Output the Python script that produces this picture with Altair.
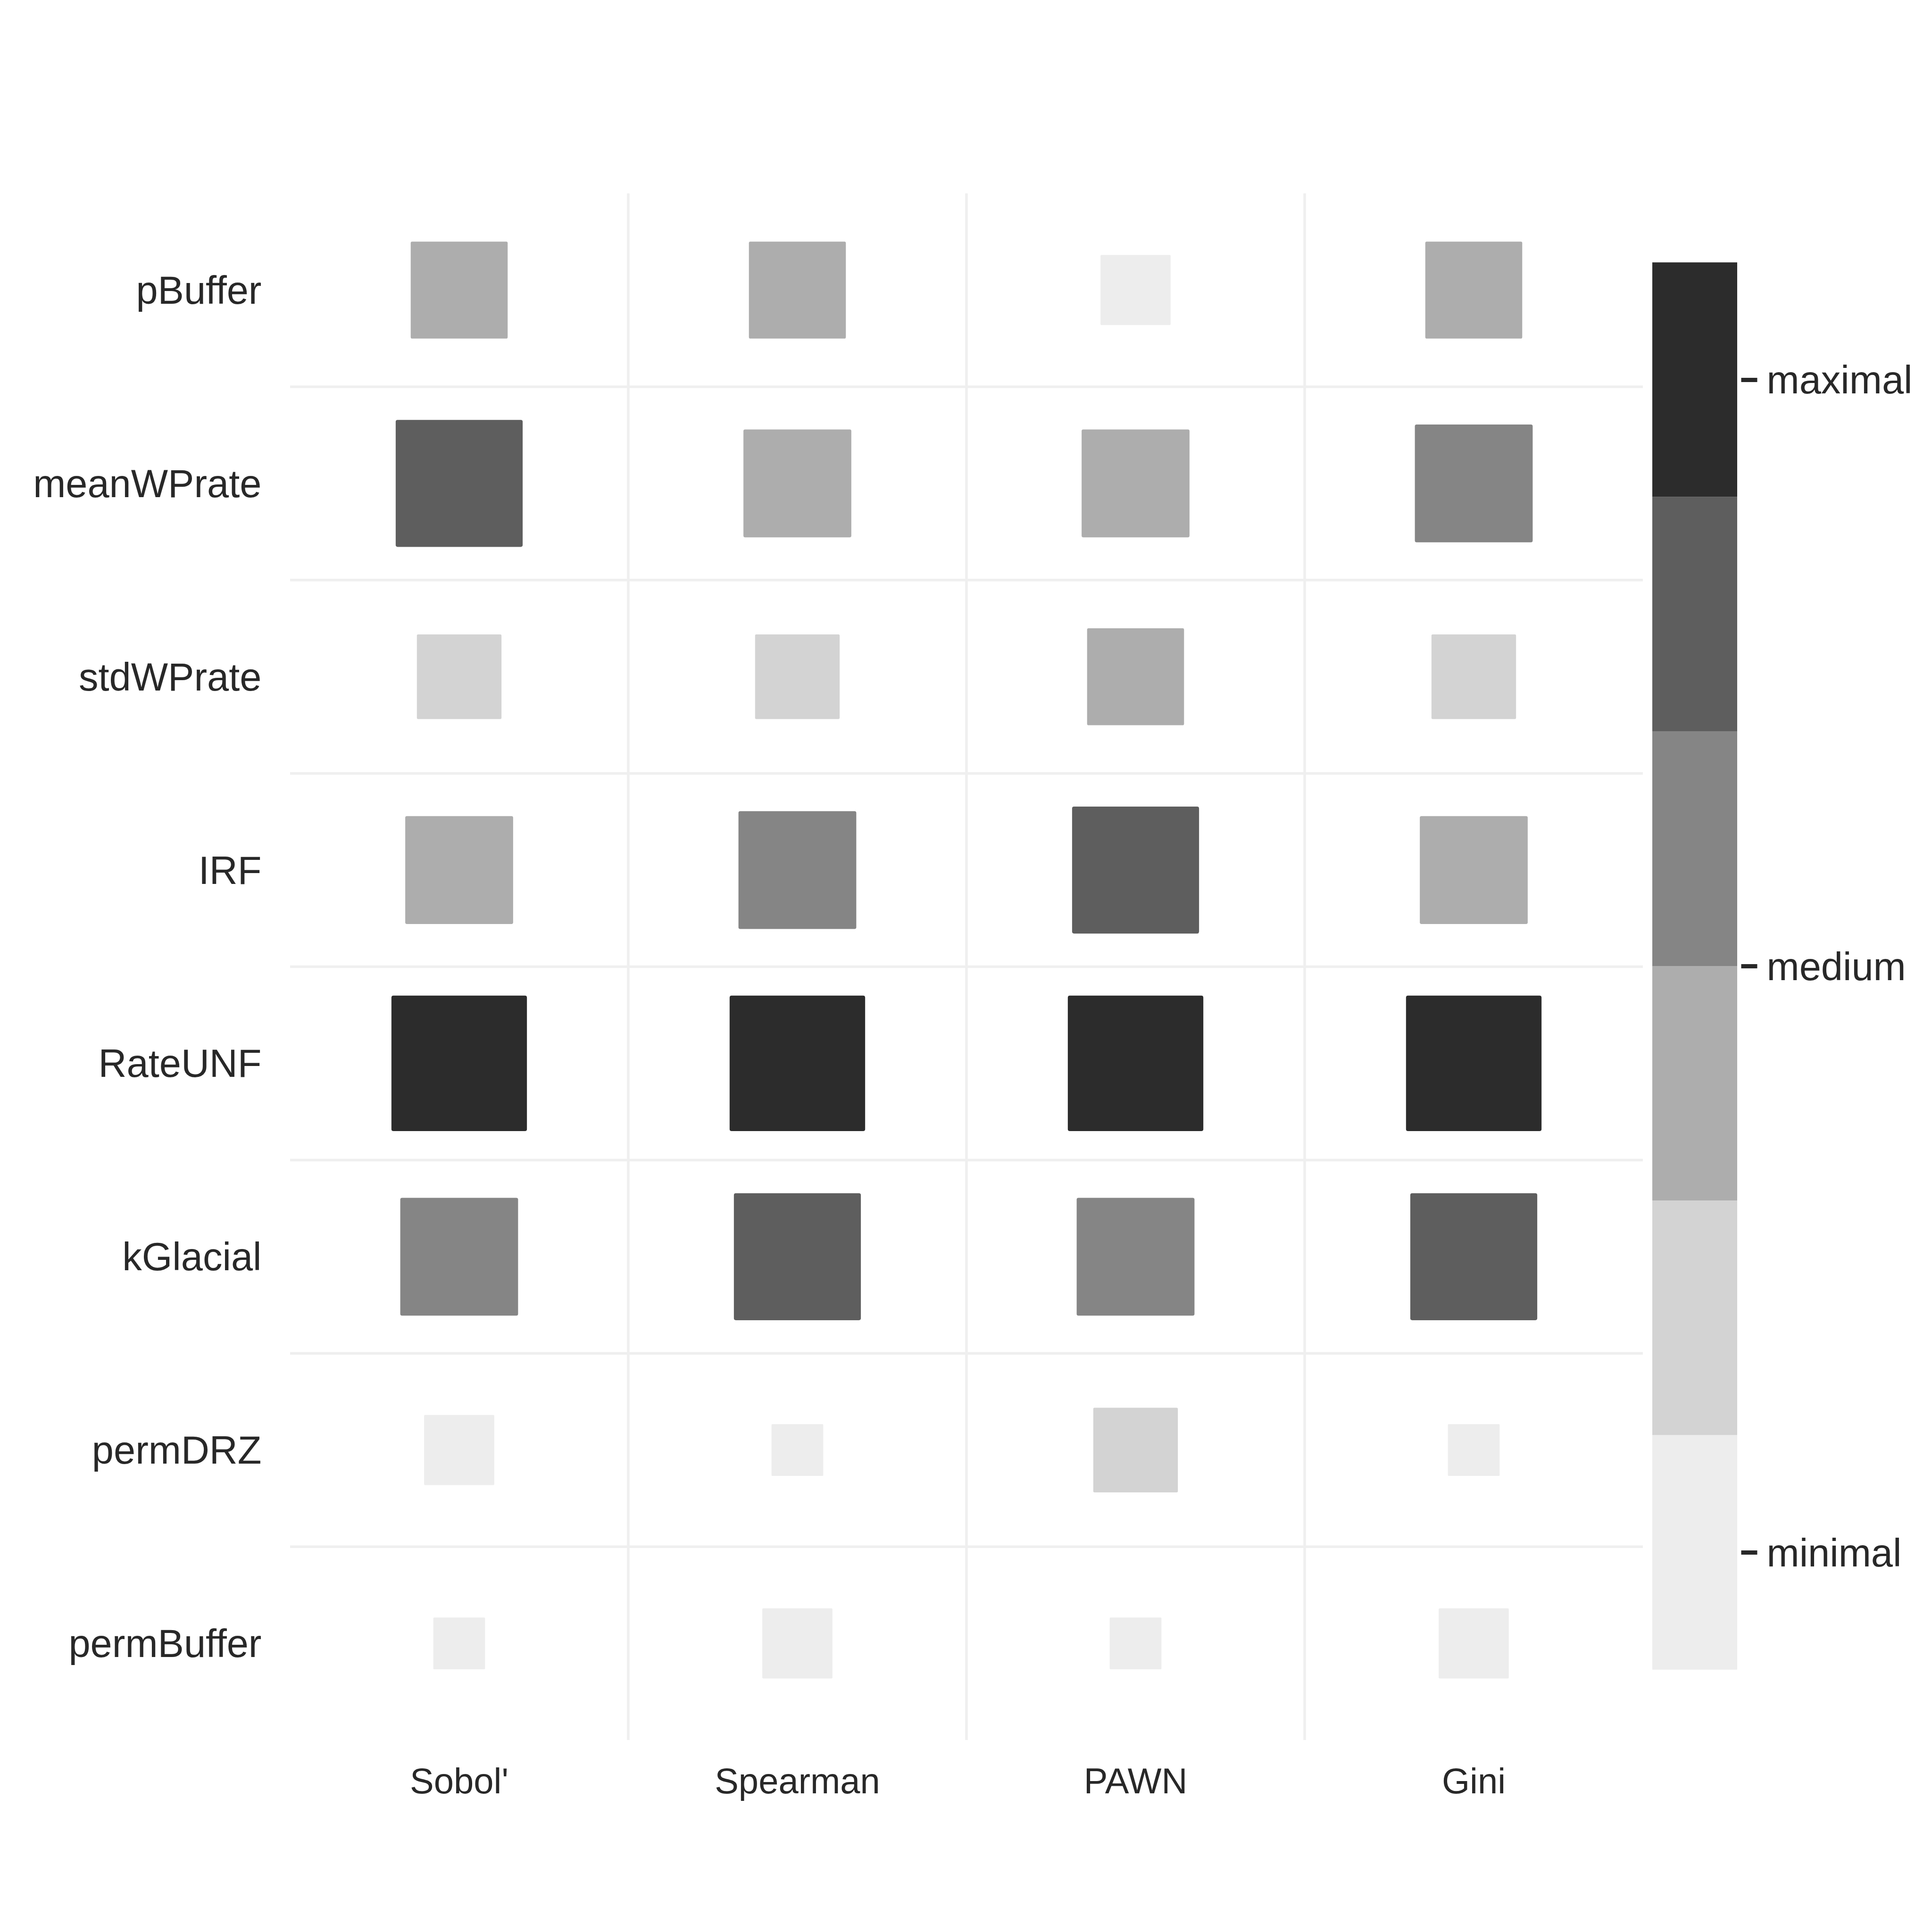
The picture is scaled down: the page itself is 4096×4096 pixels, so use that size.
import altair as alt
import pandas as pd

# ---- data ----
params = ["pBuffer", "meanWPrate", "stdWPrate", "IRF", "RateUNF", "kGlacial", "permDRZ", "permBuffer"]
methods = ["Sobol'", "Spearman", "PAWN", "Gini"]

# square size = rank of the parameter within each method (1 = smallest, 8 = largest)
rank_sobol = [4, 7, 3, 5, 8, 6, 2, 1]
rank_spearman = [4, 5, 3, 6, 8, 7, 1, 2]
rank_pawn = [2, 5, 4, 7, 8, 6, 3, 1]
rank_gini = [4, 6, 3, 5, 8, 7, 1, 2]

# grey level class (1 = minimal ... 6 = maximal)
level_sobol = [3, 5, 2, 3, 6, 4, 1, 1]
level_spearman = [3, 3, 2, 4, 6, 5, 1, 1]
level_pawn = [1, 3, 3, 5, 6, 4, 2, 1]
level_gini = [3, 4, 2, 3, 6, 5, 1, 1]

levels = [1, 2, 3, 4, 5, 6]
level_colors = ["#ededed", "#d3d3d3", "#adadad", "#858585", "#5e5e5e", "#2c2c2c"]
legend_ticks = [1, 3.5, 6]
legend_names = ["minimal", "medium", "maximal"]

# ---- build tables ----
ranks = {"Sobol'": rank_sobol, "Spearman": rank_spearman, "PAWN": rank_pawn, "Gini": rank_gini}
lvls = {"Sobol'": level_sobol, "Spearman": level_spearman, "PAWN": level_pawn, "Gini": level_gini}
rows = []
for m in methods:
    for i, p in enumerate(params):
        rows.append({"method": m, "param": p, "rank": ranks[m][i], "level": lvls[m][i]})
df = pd.DataFrame(rows)

vdf = pd.DataFrame({"method": methods[1:]})
hdf = pd.DataFrame({"param": params[1:]})
ldf = pd.DataFrame({"level": levels, "lo": [v - 0.5 for v in levels], "hi": [v + 0.5 for v in levels]})

FONT = "Liberation Sans"
TXT = "#282828"
GRID = "#efefef"

W, H = 2868, 3279

xaxis = alt.Axis(title=None, orient="bottom", domain=False, ticks=False, grid=False,
                 labelFont=FONT, labelFontSize=76, labelColor=TXT, labelPadding=52,
                 labelAngle=0, labelLimit=2000)
yaxis = alt.Axis(title=None, orient="left", domain=False, ticks=False, grid=False,
                 labelFont=FONT, labelFontSize=83, labelColor=TXT, labelPadding=61,
                 labelOffset=4, labelLimit=2000)

xscale = alt.Scale(paddingInner=0, paddingOuter=0)
yscale = alt.Scale(paddingInner=0, paddingOuter=0)

color_scale = alt.Scale(domain=levels, range=level_colors)

ROUNDED = ("M -0.97 -1 L 0.97 -1 Q 1 -1 1 -0.97 L 1 0.97 Q 1 1 0.97 1 "
           "L -0.97 1 Q -1 1 -1 0.97 L -1 -0.97 Q -1 -1 -0.97 -1 Z")

vrules = alt.Chart(vdf).mark_rule(color=GRID, strokeWidth=5.5).encode(
    x=alt.X("method:N", sort=methods, scale=xscale, axis=xaxis, bandPosition=0)
)
hrules = alt.Chart(hdf).mark_rule(color=GRID, strokeWidth=5.5).encode(
    y=alt.Y("param:N", sort=params, scale=yscale, axis=yaxis, bandPosition=0)
)
squares = alt.Chart(df).mark_point(shape=ROUNDED, filled=True, opacity=1, strokeWidth=0).encode(
    x=alt.X("method:N", sort=methods, scale=xscale, axis=xaxis),
    y=alt.Y("param:N", sort=params, scale=yscale, axis=yaxis),
    size=alt.Size("rank:Q", scale=alt.Scale(domain=[1, 8], range=[12034, 82541], zero=False), legend=None),
    color=alt.Color("level:O", scale=color_scale, legend=None),
)

main = alt.layer(vrules, hrules, squares).properties(width=W, height=H)

label_expr = ("datum.value == 1 ? 'minimal' : (datum.value == 6 ? 'maximal' : 'medium')")

# legend bar occupies the band 0.5..6.5 of a taller scale so that it sits inside the plot height
legend = alt.Chart(ldf).mark_rect(strokeWidth=0).encode(
    y=alt.Y("lo:Q", scale=alt.Scale(domain=[0.2, 6.794], nice=False, zero=False),
            axis=alt.Axis(title=None, orient="right", values=legend_ticks, labelExpr=label_expr,
                          domain=False, grid=False, ticks=True, tickSize=34, tickWidth=9,
                          tickColor=TXT, offset=8, labelFont=FONT, labelFontSize=83,
                          labelColor=TXT, labelPadding=20, labelOffset=4,
                          labelBaseline="middle", labelLimit=2000)),
    y2="hi:Q",
    x=alt.value(0),
    x2=alt.value(180),
    color=alt.Color("level:O", scale=color_scale, legend=None),
).properties(width=180, height=H)

chart = alt.hconcat(main, legend, spacing=17).configure_view(strokeWidth=0).properties(
    padding={"left": 69, "top": 407, "right": 10, "bottom": 10},
    background="white",
)

chart.save("out.html", embed_options={"renderer": "svg", "actions": False})
